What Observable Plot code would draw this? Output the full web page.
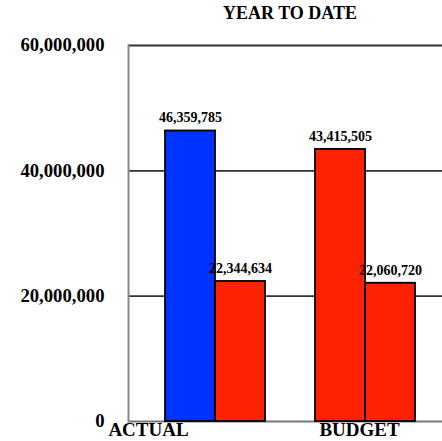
<!DOCTYPE html>
<html>
<head>
<meta charset="utf-8">
<script src="https://cdn.jsdelivr.net/npm/d3@7"></script>
<script src="https://cdn.jsdelivr.net/npm/@observablehq/plot@0.6"></script>
<style>
  body { margin: 0; background: #fff; }
  #title { width: 442px; height: 27px; line-height: 27px; box-sizing: border-box; padding-left: 138px; text-align: center;
    font-family: "Liberation Serif", "DejaVu Serif", serif; font-weight: bold; font-size: 18px; color: #000; }
</style>
</head>
<body>
<div id="title">YEAR TO DATE</div>
<div id="chart"></div>
<script>
const categories = ["ACTUAL", "BUDGET"];
const series1 = [46359785, 43415505];
const series2 = [22344634, 22060720];
const yTicks = [0, 20000000, 40000000, 60000000];

const blue = "#0033ff", red = "#ff2200";
const font = "Liberation Serif, DejaVu Serif, serif";

const data = [];
categories.forEach((c, i) => {
  data.push({cat: c, key: c + "·1", value: series1[i], fill: i === 0 ? blue : red});
  data.push({cat: c, key: c + "·2", value: series2[i], fill: red});
});
const xDomain = [categories[0] + "·1", categories[0] + "·2", " ", categories[1] + "·1", categories[1] + "·2"];
const fmt = d3.format(",");

const chart = Plot.plot({
  width: 442,
  height: 414,
  marginLeft: 128,
  marginRight: 0,
  marginTop: 18,
  marginBottom: 20,
  style: {fontFamily: font, background: "#fff", overflow: "visible"},
  x: {domain: xDomain, padding: 0, paddingOuter: 0.64, align: 0.578, axis: null},
  y: {domain: [0, 60000000], axis: null},
  marks: [
    Plot.ruleY(yTicks.slice(1), {stroke: "#333", strokeWidth: 1.8}),
    Plot.ruleY([0], {stroke: "#777", strokeWidth: 1.8}),
    Plot.frame({anchor: "left", stroke: "#888", strokeWidth: 2}),
    Plot.barY(data, {x: "key", y: "value", fill: "fill", stroke: "#000", strokeWidth: 1.8, inset: 0}),
    Plot.text(data, {x: "key", y: "value", text: d => fmt(d.value), dy: -13, fontSize: 14, fontWeight: "bold", fill: "#000", ariaLabel: "values"}),
    Plot.axisY({ticks: yTicks, tickSize: 0, tickPadding: 24, tickFormat: fmt, fontSize: 18.7, fontWeight: "bold", label: null, fill: "#000"}),
    Plot.text([categories[0]], {x: () => xDomain[0], frameAnchor: "bottom", lineAnchor: "top", dy: 1, dx: -42, fontSize: 19, fontWeight: "bold", fill: "#000"}),
    Plot.text([categories[1]], {x: () => xDomain[3], frameAnchor: "bottom", lineAnchor: "top", dy: 1, dx: 19, fontSize: 19, fontWeight: "bold", fill: "#000"})
  ]
});
document.getElementById("chart").appendChild(chart);
d3.select(chart).selectAll('g[aria-label="values"] text').style("text-shadow", "1px 1px 2px rgba(0,0,0,0.45)");
</script>
</body>
</html>
